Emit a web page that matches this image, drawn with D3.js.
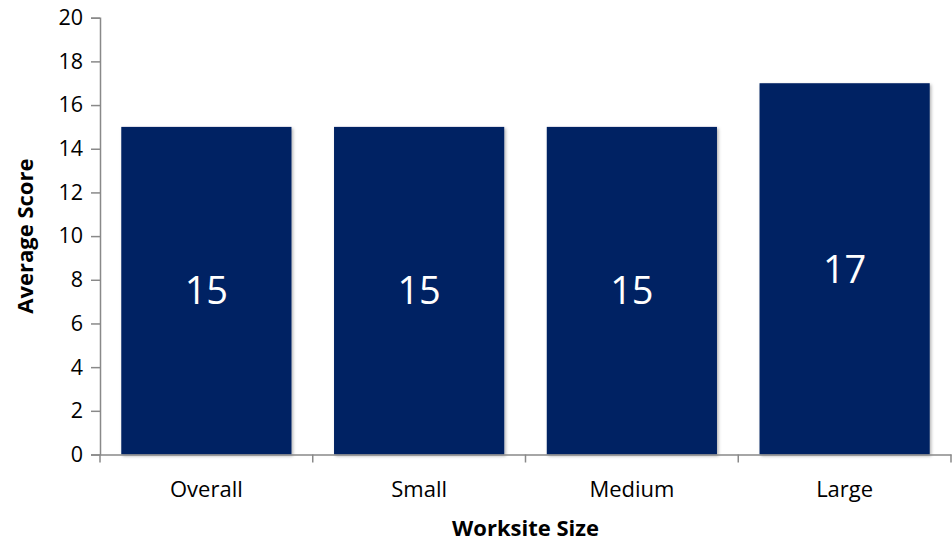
<!DOCTYPE html>
<html><head><meta charset="utf-8">
<script src="https://cdn.jsdelivr.net/npm/d3@7"></script>
<style>
html,body{margin:0;padding:0;background:#fff;}
svg{display:block;}
text{font-family:"Open Sans",sans-serif;}
</style></head>
<body>
<script>
const categories = ["Overall", "Small", "Medium", "Large"];
const values = [15, 15, 15, 17];
const yTicks = [0, 2, 4, 6, 8, 10, 12, 14, 16, 18, 20];

const W = 952, H = 542;
const m = {left: 100, right: 1, top: 17.7, bottom: 87.5};
const svg = d3.select("body").append("svg").attr("width", W).attr("height", H);

const defs = svg.append("defs");
const f = defs.append("filter").attr("id", "sh").attr("x", "-5%").attr("y", "-5%").attr("width", "110%").attr("height", "110%");
f.append("feDropShadow").attr("dx", 1.5).attr("dy", 1.5).attr("stdDeviation", 1.5).attr("flood-color", "#000").attr("flood-opacity", 0.3);

const x = d3.scaleBand().domain(categories).range([m.left, W - m.right]).paddingInner(0.2).paddingOuter(0.1);
const y = d3.scaleLinear().domain([0, 20]).range([H - m.bottom, m.top]);

// bars
svg.selectAll("rect.bar").data(values).join("rect")
  .attr("class", "bar")
  .attr("x", (d, i) => x(categories[i]))
  .attr("width", x.bandwidth())
  .attr("y", d => y(d))
  .attr("height", d => y(0) - y(d))
  .attr("fill", "#042463")
  .attr("filter", "url(#sh)");

// value labels
svg.selectAll("text.val").data(values).join("text")
  .attr("class", "val")
  .attr("x", (d, i) => x(categories[i]) + x.bandwidth() / 2)
  .attr("y", d => (y(d) + y(0)) / 2)
  .attr("dy", "0.36em")
  .attr("text-anchor", "middle")
  .attr("fill", "#fff")
  .style("font-size", "38px")
  .text(d => d);

// y axis
const yAxis = svg.append("g").attr("transform", `translate(${m.left},0)`)
  .call(d3.axisLeft(y).tickValues(yTicks).tickSize(9).tickPadding(8).tickFormat(d3.format("d")));
yAxis.select(".domain").attr("stroke", "#898989").attr("stroke-width", 1.5);
yAxis.selectAll(".tick line").attr("stroke", "#898989").attr("stroke-width", 1.5);
yAxis.selectAll(".tick text").attr("fill", "#000").style("font-size", "21.5px").style("font-family", "Open Sans");

// x axis
const xAxis = svg.append("g").attr("transform", `translate(0,${y(0)})`)
  .call(d3.axisBottom(x).tickSize(0).tickPadding(27));
xAxis.select(".domain").attr("stroke", "#898989").attr("stroke-width", 1.5);
xAxis.selectAll(".tick text").attr("fill", "#000").style("font-size", "22px").style("font-family", "Open Sans");
// boundary ticks between categories
const bounds = [m.left].concat(categories.map(c => x(c) + x.bandwidth() + x.step() * 0.1));
xAxis.selectAll("line.bt").data(bounds).join("line")
  .attr("class", "bt")
  .attr("x1", d => d).attr("x2", d => d)
  .attr("y1", 0).attr("y2", 8)
  .attr("stroke", "#898989").attr("stroke-width", 1.5);

// axis titles
svg.append("text")
  .attr("transform", `translate(33,${(y(0) + y(20)) / 2}) rotate(-90)`)
  .attr("text-anchor", "middle")
  .style("font-size", "22px").style("font-weight", "bold")
  .text("Average Score");
svg.append("text")
  .attr("x", (m.left + W - m.right) / 2)
  .attr("y", 536)
  .attr("text-anchor", "middle")
  .style("font-size", "22px").style("font-weight", "bold")
  .text("Worksite Size");
</script>
</body></html>
